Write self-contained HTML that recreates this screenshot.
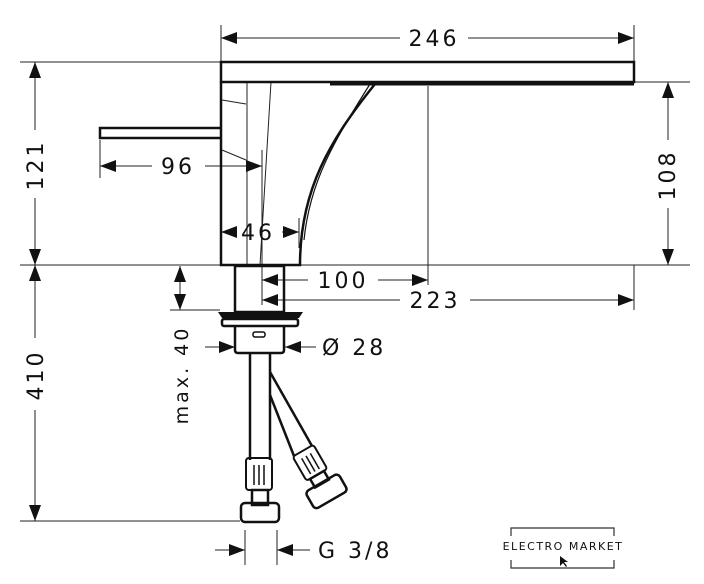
<!DOCTYPE html>
<html><head><style>body{margin:0;background:#fff}svg{display:block}text{font-family:"DejaVu Sans","Liberation Sans",sans-serif;font-size:22px;fill:#111;letter-spacing:3px}</style></head>
<body>
<svg width="704" height="584" viewBox="0 0 704 584" xmlns="http://www.w3.org/2000/svg">
<defs>
<marker id="a" viewBox="0 0 16 12" refX="16" refY="6" markerWidth="16" markerHeight="12" markerUnits="userSpaceOnUse" orient="auto-start-reverse"><path d="M0,0L16,6L0,12Z" fill="#111"/></marker>
</defs>
<g stroke="#222" stroke-width="1" fill="none">
<line x1="20" y1="62" x2="221" y2="62"/>
<line x1="20" y1="265" x2="690" y2="265"/>
<line x1="20" y1="521" x2="240" y2="521"/>
<line x1="221" y1="25" x2="221" y2="62"/>
<line x1="634" y1="25" x2="634" y2="62"/>
<line x1="520" y1="82" x2="690" y2="82"/>
<line x1="634" y1="265" x2="634" y2="310"/>
<line x1="428" y1="86" x2="428" y2="285"/>
<line x1="100" y1="140" x2="100" y2="178"/>
<line x1="299" y1="218" x2="299" y2="248"/>
<line x1="262" y1="150" x2="262" y2="305"/>
<line x1="247" y1="82" x2="247" y2="265"/>
<line x1="271" y1="82" x2="260" y2="265"/>
<line x1="170" y1="310" x2="220" y2="310"/>
<line x1="245" y1="530" x2="245" y2="565"/>
<line x1="277" y1="530" x2="277" y2="565"/>
<path d="M222,100 L246,104"/>
<path d="M222,150 L246,160"/>
<line x1="221" y1="38" x2="400" y2="38" marker-start="url(#a)"/>
<line x1="468" y1="38" x2="634" y2="38" marker-end="url(#a)"/>
<line x1="35" y1="62" x2="35" y2="130" marker-start="url(#a)"/>
<line x1="35" y1="198" x2="35" y2="265" marker-end="url(#a)"/>
<line x1="35" y1="265" x2="35" y2="338" marker-start="url(#a)"/>
<line x1="35" y1="410" x2="35" y2="521" marker-end="url(#a)"/>
<line x1="668" y1="82" x2="668" y2="140" marker-start="url(#a)"/>
<line x1="668" y1="208" x2="668" y2="265" marker-end="url(#a)"/>
<line x1="100" y1="166" x2="152" y2="166" marker-start="url(#a)"/>
<line x1="205" y1="166" x2="262" y2="166" marker-end="url(#a)"/>
<line x1="221" y1="232" x2="232" y2="232" marker-start="url(#a)"/>
<line x1="282" y1="232" x2="299" y2="232" marker-end="url(#a)"/>
<line x1="262" y1="280" x2="308" y2="280" marker-start="url(#a)"/>
<line x1="378" y1="280" x2="428" y2="280" marker-end="url(#a)"/>
<line x1="262" y1="300" x2="400" y2="300" marker-start="url(#a)"/>
<line x1="470" y1="300" x2="634" y2="300" marker-end="url(#a)"/>
<line x1="180" y1="266" x2="180" y2="310" marker-start="url(#a)" marker-end="url(#a)"/>
<line x1="205" y1="347" x2="235" y2="347" marker-end="url(#a)"/>
<line x1="316" y1="347" x2="285" y2="347" marker-end="url(#a)"/>
<line x1="215" y1="550" x2="245" y2="550" marker-end="url(#a)"/>
<line x1="310" y1="550" x2="277" y2="550" marker-end="url(#a)"/>
</g>
<g stroke="#111" stroke-width="2.5" fill="none">
<rect x="221" y="62" width="413" height="20"/>
<path d="M221,82 L221,265 L300,265 C300,190 330,140 375,84"/>
<path d="M304,240 C310,180 335,140 370,84" stroke-width="1.2"/>
<path d="M330,84 L634,84" stroke-width="3"/>
<path d="M221,128 L100,128 L100,138 L221,138"/>
<rect x="235" y="266" width="49" height="46"/>
<path d="M235,326 L235,350 Q235,353 238,353 L281,353 Q284,353 284,350 L284,326"/>
<rect x="222" y="319" width="76" height="7" rx="2"/>
<rect x="253" y="332" width="12" height="5" rx="2" stroke-width="1.5"/>
<line x1="250" y1="353" x2="250" y2="460"/>
<line x1="270" y1="353" x2="270" y2="460"/>
<rect x="246" y="458" width="26" height="32" rx="3" stroke-width="2"/>
<line x1="254" y1="465" x2="254" y2="485" stroke-width="1.5"/><line x1="259" y1="465" x2="259" y2="485" stroke-width="1.5"/><line x1="264" y1="465" x2="264" y2="485" stroke-width="1.5"/>
<rect x="252" y="490" width="16" height="15"/>
<rect x="241" y="503" width="38" height="19" rx="4"/>
<line x1="270" y1="372" x2="312" y2="446"/>
<line x1="270" y1="395" x2="294" y2="456"/>
<g transform="translate(313,468) rotate(-30)">
<rect x="-12" y="-20" width="24" height="28" rx="3" stroke-width="2"/>
<line x1="-5" y1="-14" x2="-5" y2="4" stroke-width="1.5"/><line x1="0" y1="-14" x2="0" y2="4" stroke-width="1.5"/><line x1="5" y1="-14" x2="5" y2="4" stroke-width="1.5"/>
<rect x="-8" y="8" width="16" height="10"/>
<rect x="-19" y="17" width="38" height="20" rx="4"/>
</g>
</g>
<path d="M218,312 L303,312 L299,318 L222,318 Z" fill="#111"/>
<text x="434" y="46" text-anchor="middle">246</text>
<text x="178" y="174" text-anchor="middle">96</text>
<text x="258" y="240" text-anchor="middle">46</text>
<text x="343" y="288" text-anchor="middle">100</text>
<text x="435" y="308" text-anchor="middle">223</text>
<text x="322" y="355">Ø 28</text>
<text x="318" y="558">G 3/8</text>
<text transform="translate(43,165) rotate(-90)" text-anchor="middle">121</text>
<text transform="translate(43,375) rotate(-90)" text-anchor="middle">410</text>
<text transform="translate(675,175) rotate(-90)" text-anchor="middle">108</text>
<text transform="translate(188,375) rotate(-90)" text-anchor="middle" style="font-size:19px">max. 40</text>
<g stroke="#333" stroke-width="1.2" fill="none">
<path d="M511,536 L511,528 L614,528 L614,536"/>
<path d="M511,560 L511,568 L614,568 L614,560"/>
</g>
<text x="563" y="550" text-anchor="middle" style="font-size:11px;letter-spacing:1.5px">ELECTRO MARKET</text>
<path d="M560,556 L560,566 L563,563 L566,567 L567,566 L564,562 L568,562 Z" fill="#111"/>
</svg>
</body></html>
